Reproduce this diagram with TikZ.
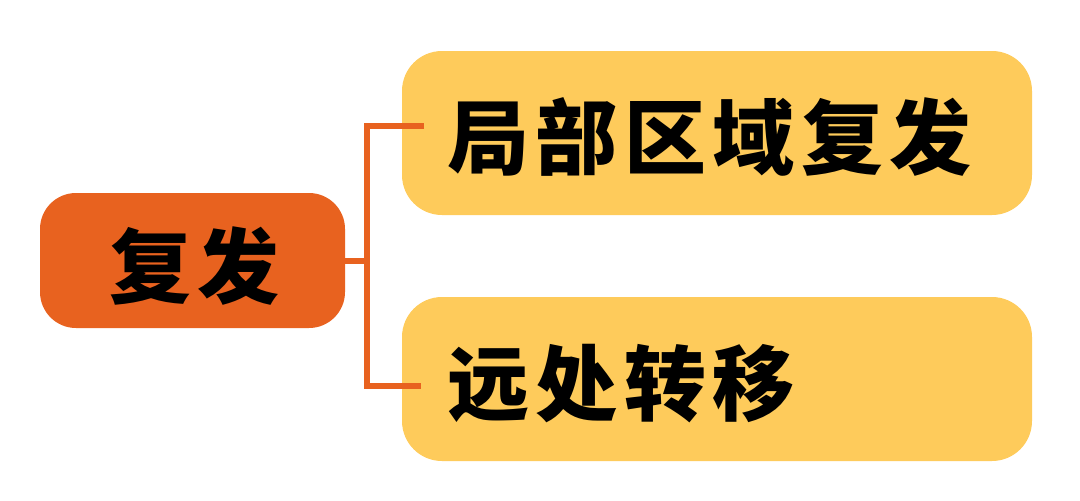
\documentclass[tikz,border=0pt]{standalone}
\usepackage{fontspec}
\newfontfamily\cjk{Noto Sans CJK SC}[LetterSpace=8]
\definecolor{rootorange}{HTML}{E8621F}
\definecolor{leafyellow}{HTML}{FECB5B}
\begin{document}
\begin{tikzpicture}[x=1pt,y=-1pt,
  rootbox/.style={fill=rootorange, rounded corners=36pt, minimum width=305pt, minimum height=135pt, inner sep=0pt, text height=82pt, text depth=8pt, font=\cjk\bfseries\fontsize{82}{90}\selectfont, text=black},
  leafbox/.style={fill=leafyellow, rounded corners=40pt, minimum width=630pt, minimum height=164pt, inner sep=0pt, text height=78pt, text depth=8pt, text width=540pt, align=left, font=\cjk\bfseries\fontsize{82}{90}\selectfont, text=black},
  conn/.style={draw=rootorange, line width=6pt}]
\useasboundingbox (0,0) rectangle (1080,501);
\node[rootbox] (root) at (192.5,260.5) {\hspace*{4pt}复发};
\node[leafbox] (top) at (717,133) {局部区域复发};
\node[leafbox] (bot) at (717,379) {远处转移};
\coordinate (jt) at (367,126);
\coordinate (jb) at (367,386);
\coordinate (ta) at (424,126);
\coordinate (ba) at (421,386);
\draw[conn] (ta) -- (jt) -- (jb) -- (ba);
\draw[conn] (root.east) -- (root.east -| jt);
\end{tikzpicture}
\end{document}
